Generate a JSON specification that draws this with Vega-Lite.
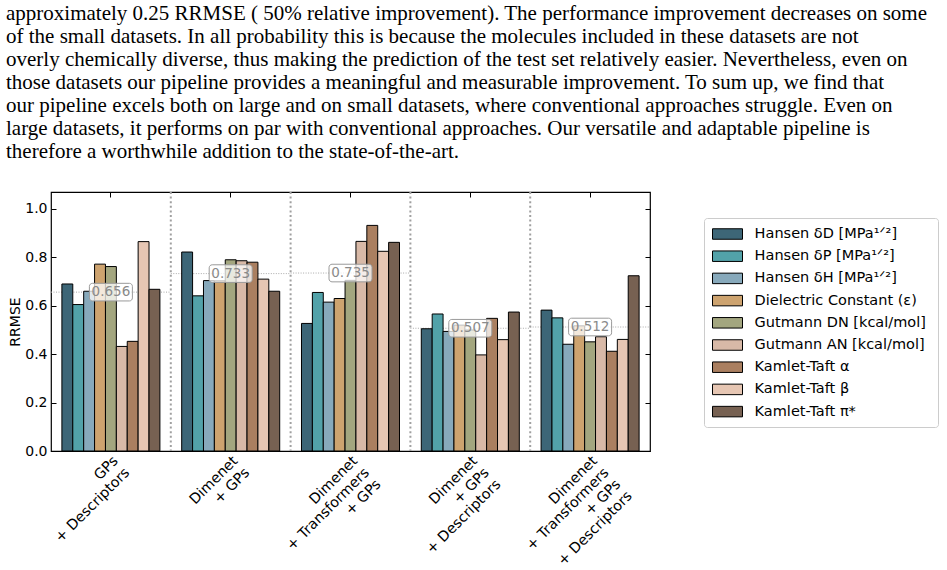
{
  "$schema": "https://vega.github.io/schema/vega-lite/v6.json",
  "autosize": {"type": "none"},
  "padding": {"left": 51, "top": 192, "right": 297, "bottom": 119},
  "width": 599,
  "height": 259,
  "background": "white",
  "title": {
    "text": [
      "approximately 0.25 RRMSE ( 50% relative improvement). The performance improvement decreases on some",
      "of the small datasets. In all probability this is because the molecules included in these datasets are not",
      "overly chemically diverse, thus making the prediction of the test set relatively easier. Nevertheless, even on",
      "those datasets our pipeline provides a meaningful and measurable improvement. To sum up, we find that",
      "our pipeline excels both on large and on small datasets, where conventional approaches struggle. Even on",
      "large datasets, it performs on par with conventional approaches. Our versatile and adaptable pipeline is",
      "therefore a worthwhile addition to the state-of-the-art."
    ],
    "anchor": "start",
    "frame": "group",
    "orient": "top",
    "font": "Liberation Serif",
    "fontSize": 21,
    "fontWeight": "normal",
    "color": "black",
    "lineHeight": 23,
    "baseline": "bottom",
    "dx": -45,
    "offset": 8.5
  },
  "data": {
    "values": [
      {"model": "GPs\n+ Descriptors", "target": "Hansen δD [MPa¹ᐟ²]", "rrmse": 0.69},
      {"model": "GPs\n+ Descriptors", "target": "Hansen δP [MPa¹ᐟ²]", "rrmse": 0.605},
      {"model": "GPs\n+ Descriptors", "target": "Hansen δH  [MPa¹ᐟ²]", "rrmse": 0.66},
      {"model": "GPs\n+ Descriptors", "target": "Dielectric Constant (ε)", "rrmse": 0.772},
      {"model": "GPs\n+ Descriptors", "target": "Gutmann DN [kcal/mol]", "rrmse": 0.762},
      {"model": "GPs\n+ Descriptors", "target": "Gutmann AN  [kcal/mol]", "rrmse": 0.432},
      {"model": "GPs\n+ Descriptors", "target": "Kamlet-Taft α", "rrmse": 0.453},
      {"model": "GPs\n+ Descriptors", "target": "Kamlet-Taft β", "rrmse": 0.865},
      {"model": "GPs\n+ Descriptors", "target": "Kamlet-Taft π*", "rrmse": 0.668},

      {"model": "Dimenet\n+ GPs", "target": "Hansen δD [MPa¹ᐟ²]", "rrmse": 0.822},
      {"model": "Dimenet\n+ GPs", "target": "Hansen δP [MPa¹ᐟ²]", "rrmse": 0.641},
      {"model": "Dimenet\n+ GPs", "target": "Hansen δH  [MPa¹ᐟ²]", "rrmse": 0.704},
      {"model": "Dimenet\n+ GPs", "target": "Dielectric Constant (ε)", "rrmse": 0.703},
      {"model": "Dimenet\n+ GPs", "target": "Gutmann DN [kcal/mol]", "rrmse": 0.79},
      {"model": "Dimenet\n+ GPs", "target": "Gutmann AN  [kcal/mol]", "rrmse": 0.786},
      {"model": "Dimenet\n+ GPs", "target": "Kamlet-Taft α", "rrmse": 0.78},
      {"model": "Dimenet\n+ GPs", "target": "Kamlet-Taft β", "rrmse": 0.71},
      {"model": "Dimenet\n+ GPs", "target": "Kamlet-Taft π*", "rrmse": 0.66},

      {"model": "Dimenet\n+ Transformers\n+ GPs", "target": "Hansen δD [MPa¹ᐟ²]", "rrmse": 0.527},
      {"model": "Dimenet\n+ Transformers\n+ GPs", "target": "Hansen δP [MPa¹ᐟ²]", "rrmse": 0.655},
      {"model": "Dimenet\n+ Transformers\n+ GPs", "target": "Hansen δH  [MPa¹ᐟ²]", "rrmse": 0.615},
      {"model": "Dimenet\n+ Transformers\n+ GPs", "target": "Dielectric Constant (ε)", "rrmse": 0.63},
      {"model": "Dimenet\n+ Transformers\n+ GPs", "target": "Gutmann DN [kcal/mol]", "rrmse": 0.705},
      {"model": "Dimenet\n+ Transformers\n+ GPs", "target": "Gutmann AN  [kcal/mol]", "rrmse": 0.866},
      {"model": "Dimenet\n+ Transformers\n+ GPs", "target": "Kamlet-Taft α", "rrmse": 0.932},
      {"model": "Dimenet\n+ Transformers\n+ GPs", "target": "Kamlet-Taft β", "rrmse": 0.825},
      {"model": "Dimenet\n+ Transformers\n+ GPs", "target": "Kamlet-Taft π*", "rrmse": 0.862},

      {"model": "Dimenet\n+ GPs\n+ Descriptors", "target": "Hansen δD [MPa¹ᐟ²]", "rrmse": 0.505},
      {"model": "Dimenet\n+ GPs\n+ Descriptors", "target": "Hansen δP [MPa¹ᐟ²]", "rrmse": 0.566},
      {"model": "Dimenet\n+ GPs\n+ Descriptors", "target": "Hansen δH  [MPa¹ᐟ²]", "rrmse": 0.494},
      {"model": "Dimenet\n+ GPs\n+ Descriptors", "target": "Dielectric Constant (ε)", "rrmse": 0.52},
      {"model": "Dimenet\n+ GPs\n+ Descriptors", "target": "Gutmann DN [kcal/mol]", "rrmse": 0.5},
      {"model": "Dimenet\n+ GPs\n+ Descriptors", "target": "Gutmann AN  [kcal/mol]", "rrmse": 0.397},
      {"model": "Dimenet\n+ GPs\n+ Descriptors", "target": "Kamlet-Taft α", "rrmse": 0.548},
      {"model": "Dimenet\n+ GPs\n+ Descriptors", "target": "Kamlet-Taft β", "rrmse": 0.46},
      {"model": "Dimenet\n+ GPs\n+ Descriptors", "target": "Kamlet-Taft π*", "rrmse": 0.574},

      {"model": "Dimenet\n+ Transformers\n+ GPs\n+ Descriptors", "target": "Hansen δD [MPa¹ᐟ²]", "rrmse": 0.582},
      {"model": "Dimenet\n+ Transformers\n+ GPs\n+ Descriptors", "target": "Hansen δP [MPa¹ᐟ²]", "rrmse": 0.55},
      {"model": "Dimenet\n+ Transformers\n+ GPs\n+ Descriptors", "target": "Hansen δH  [MPa¹ᐟ²]", "rrmse": 0.441},
      {"model": "Dimenet\n+ Transformers\n+ GPs\n+ Descriptors", "target": "Dielectric Constant (ε)", "rrmse": 0.517},
      {"model": "Dimenet\n+ Transformers\n+ GPs\n+ Descriptors", "target": "Gutmann DN [kcal/mol]", "rrmse": 0.451},
      {"model": "Dimenet\n+ Transformers\n+ GPs\n+ Descriptors", "target": "Gutmann AN  [kcal/mol]", "rrmse": 0.472},
      {"model": "Dimenet\n+ Transformers\n+ GPs\n+ Descriptors", "target": "Kamlet-Taft α", "rrmse": 0.412},
      {"model": "Dimenet\n+ Transformers\n+ GPs\n+ Descriptors", "target": "Kamlet-Taft β", "rrmse": 0.461},
      {"model": "Dimenet\n+ Transformers\n+ GPs\n+ Descriptors", "target": "Kamlet-Taft π*", "rrmse": 0.724}
    ]
  },
  "layer": [
    {
      "transform": [
        {"aggregate": [{"op": "mean", "field": "rrmse", "as": "mean_rrmse"}], "groupby": ["model"]}
      ],
      "mark": {"type": "rule", "color": "#aaaaaa", "strokeWidth": 1, "strokeDash": [1, 1.5]},
      "encoding": {
        "x": {
          "field": "model", "type": "nominal", "sort": null, "bandPosition": 0,
          "axis": {"orient": "top", "labels": false, "title": null, "domain": false, "tickSize": -5}
        },
        "x2": {"field": "model", "bandPosition": 1},
        "y": {
          "field": "mean_rrmse", "type": "quantitative",
          "axis": {"orient": "right", "labels": false, "title": null, "domain": false, "values": [0, 0.2, 0.4, 0.6, 0.8, 1.0], "tickSize": -5}
        }
      }
    },
    {
      "transform": [
        {"aggregate": [{"op": "mean", "field": "rrmse", "as": "mean_rrmse"}], "groupby": ["model"]},
        {"filter": "datum.model !== 'GPs\\n+ Descriptors'"}
      ],
      "mark": {"type": "rule", "color": "#a0a0a0", "strokeWidth": 2, "strokeDash": [2, 2.6]},
      "encoding": {
        "x": {"field": "model", "type": "nominal", "sort": null, "bandPosition": 0, "axis": null}
      }
    },
    {
      "mark": {"type": "bar", "stroke": "black", "strokeWidth": 1},
      "encoding": {
        "x": {
          "field": "model", "type": "nominal", "sort": null,
          "scale": {"paddingInner": 0, "paddingOuter": 0},
          "axis": {
            "orient": "bottom", "title": null, "labelAngle": -45, "labelAlign": "right", "labelBaseline": "top",
            "labelExpr": "split(datum.label, '\\n')", "labelLineHeight": 16.5, "labelPadding": 7.5,
            "tickSize": -5, "domain": false, "labelFontSize": 14.3
          }
        },
        "xOffset": {
          "field": "target", "type": "nominal", "sort": null,
          "scale": {"paddingInner": 0, "paddingOuter": 1.08}
        },
        "y": {
          "field": "rrmse", "type": "quantitative",
          "scale": {"domain": [0, 1.07], "nice": false},
          "axis": {
            "orient": "left", "title": "RRMSE", "values": [0, 0.2, 0.4, 0.6, 0.8, 1.0], "format": ".1f",
            "tickSize": -5, "labelPadding": 9, "titlePadding": 2, "domain": false, "labelFontSize": 14
          }
        },
        "color": {
          "field": "target", "type": "nominal",
          "scale": {
            "domain": [
              "Hansen δD [MPa¹ᐟ²]", "Hansen δP [MPa¹ᐟ²]", "Hansen δH  [MPa¹ᐟ²]",
              "Dielectric Constant (ε)", "Gutmann DN [kcal/mol]", "Gutmann AN  [kcal/mol]",
              "Kamlet-Taft α", "Kamlet-Taft β", "Kamlet-Taft π*"
            ],
            "range": ["#3d6677", "#52a2a9", "#87a9bb", "#cda36f", "#a3a67f", "#d8b9a7", "#aa7f60", "#e6c6b3", "#776152"]
          },
          "legend": {
            "orient": "none", "legendX": 653, "legendY": 26, "title": null,
            "symbolType": "M-1,-0.7H3V0.7H-1Z", "symbolSize": 225,
            "symbolStrokeColor": "black", "symbolStrokeWidth": 1, "symbolOpacity": 1,
            "labelFont": "DejaVu Sans", "labelFontSize": 14.5, "labelColor": "black",
            "labelOffset": 26.6, "rowPadding": 6.2, "padding": 8, "labelLimit": 400,
            "fillColor": "white", "strokeColor": "#cccccc", "cornerRadius": 3
          }
        }
      }
    },
    {
      "transform": [
        {"aggregate": [{"op": "mean", "field": "rrmse", "as": "mean_rrmse"}], "groupby": ["model"]}
      ],
      "mark": {
        "type": "point", "filled": true, "fill": "white", "fillOpacity": 0.75,
        "stroke": "#9a9a9a", "strokeWidth": 1, "strokeOpacity": 1, "opacity": 1, "size": 1849,
        "shape": "M-0.86,-0.41H0.86A0.14,0.14 0 0 1 1,-0.27V0.27A0.14,0.14 0 0 1 0.86,0.41H-0.86A0.14,0.14 0 0 1 -1,0.27V-0.27A0.14,0.14 0 0 1 -0.86,-0.41Z"
      },
      "encoding": {
        "x": {"field": "model", "type": "nominal", "sort": null, "axis": null},
        "y": {"field": "mean_rrmse", "type": "quantitative", "axis": null}
      }
    },
    {
      "transform": [
        {"aggregate": [{"op": "mean", "field": "rrmse", "as": "mean_rrmse"}], "groupby": ["model"]}
      ],
      "mark": {"type": "text", "font": "DejaVu Sans", "fontSize": 13.5, "color": "#8a8a8a", "align": "center", "baseline": "middle"},
      "encoding": {
        "x": {"field": "model", "type": "nominal", "sort": null, "axis": null},
        "y": {"field": "mean_rrmse", "type": "quantitative", "axis": null},
        "text": {"field": "mean_rrmse", "type": "quantitative", "format": ".3f"}
      }
    }
  ],
  "resolve": {"axis": {"x": "independent", "y": "independent"}},
  "config": {
    "font": "DejaVu Sans",
    "view": {"stroke": "black", "strokeWidth": 1.2},
    "axis": {
      "grid": false, "domainColor": "black", "tickColor": "black", "tickWidth": 1,
      "labelFont": "DejaVu Sans", "labelColor": "black",
      "titleFont": "DejaVu Sans", "titleFontSize": 14, "titleFontWeight": "normal", "titleColor": "black"
    }
  }
}
